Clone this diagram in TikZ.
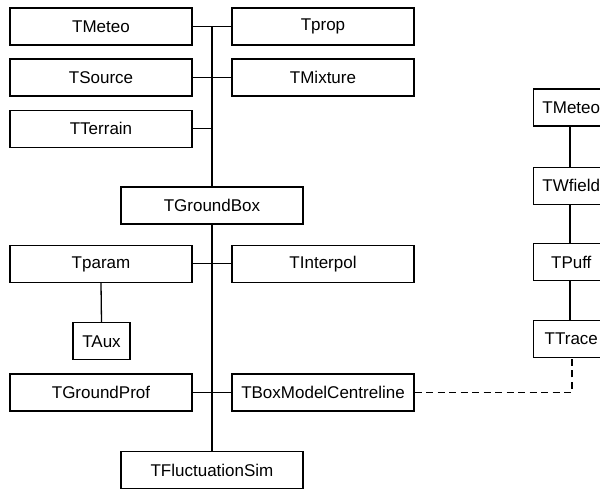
\documentclass[tikz,border=0pt]{standalone}
\usepackage{fontspec}
\setmainfont{Liberation Sans}
\begin{document}
\begin{tikzpicture}[x=1pt,y=-1pt,
  box/.style={draw,line width=1.3pt,fill=white,minimum width=182pt,minimum height=37pt,inner sep=0pt,font=\fontsize{17}{20}\selectfont},
  sbox/.style={box,minimum width=76pt},
  abox/.style={box,minimum width=57pt},
  trunk/.style={line width=1.7pt},
  branch/.style={line width=1pt},
  link/.style={line width=1.3pt},
  dashline/.style={line width=1.2pt,dash pattern=on 7pt off 4.5pt}]
\useasboundingbox (0,0) rectangle (600,489);
% left column
\node[box] (m1) at (101,26.5) {TMeteo};
\node[box] (src) at (101,77.5) {TSource};
\node[box] (ter) at (101,128.7) {TTerrain};
\node[box] (prop) at (323,26.5) {Tprop};
\node[box] (mix) at (323,77.5) {TMixture};
\node[box] (gb) at (212,205.5) {TGroundBox};
\node[box] (par) at (101,264) {Tparam};
\node[box] (intp) at (323,264) {TInterpol};
\node[abox] (aux) at (101.5,341.3) {TAux};
\node[box] (gp) at (101,392.5) {TGroundProf};
\node[box] (bm) at (323,392.5) {TBoxModelCentreline};
\node[box] (fs) at (212,470.3) {TFluctuationSim};
% right column
\node[sbox] (rm) at (571.3,107.5) {TMeteo};
\node[sbox] (wf) at (571.3,185.7) {TWfield};
\node[sbox] (pf) at (571.3,262.3) {TPuff};
\node[sbox] (tr) at (571.3,339) {TTrace};
% connectors
\draw[trunk] (gb.north |- m1.east) -- (gb.north);
\draw[trunk] (gb.south) -- (fs.north);
\draw[branch] (m1.east) -- (prop.west);
\draw[branch] (src.east) -- (mix.west);
\draw[branch] (ter.east) -- (ter.east -| gb.north);
\draw[branch] (par.east) -- (intp.west);
\draw[branch] (gp.east) -- (bm.west);
\draw[link] (par.south) -- (aux.north);
\draw[link] (rm.south -| 570,0) -- (wf.north -| 570,0);
\draw[link] (wf.south -| 570,0) -- (pf.north -| 570,0);
\draw[link] (pf.south -| 570,0) -- (tr.north -| 570,0);
\coordinate (dc) at (572,392.5);
\draw[dashline] (bm.east) -- (dc) -- (dc |- tr.south);
\end{tikzpicture}
\end{document}
